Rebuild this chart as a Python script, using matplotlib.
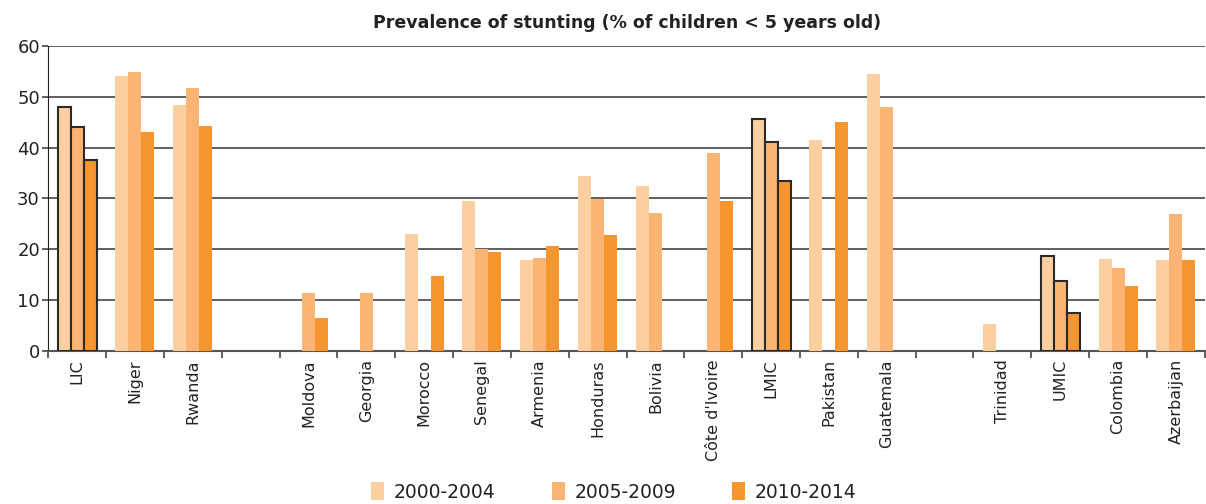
import matplotlib
matplotlib.use("Agg")
import matplotlib.pyplot as plt
from matplotlib.patches import Patch
import numpy as np

# data (None = no bar)
categories = ["LIC", "Niger", "Rwanda", "", "Moldova", "Georgia", "Morocco",
              "Senegal", "Armenia", "Honduras", "Bolivia", "Côte d'Ivoire",
              "LMIC", "Pakistan", "Guatemala", "", "Trinidad", "UMIC",
              "Colombia", "Azerbaijan"]
s2000 = [48.0, 54.0, 48.3, None, None, None, 23.0,
         29.4, 17.8, 34.4, 32.4, None,
         45.7, 41.4, 54.4, None, 5.2, 18.7,
         18.0, 17.8]
s2005 = [44.1, 54.8, 51.8, None, 11.3, 11.3, None,
         20.1, 18.2, 29.8, 27.2, 38.9,
         41.1, None, 47.9, None, None, 13.7,
         16.3, 26.9]
s2010 = [37.6, 43.1, 44.3, None, 6.5, None, 14.8,
         19.4, 20.7, 22.7, None, 29.4,
         33.5, 45.0, None, None, None, 7.5,
         12.8, 17.8]
series_labels = ["2000-2004", "2005-2009", "2010-2014"]
income_groups = ["LIC", "LMIC", "UMIC"]

colors = ["#FCCFA1", "#FAB575", "#F7952F"]

fig = plt.figure(figsize=(12.06, 5.04), dpi=100)
ax = fig.add_axes([0.040, 0.304, 0.959, 0.605])

x = np.arange(len(categories))
w = 0.225
for k, (vals, col) in enumerate(zip([s2000, s2005, s2010], colors)):
    for i, v in enumerate(vals):
        if v is None:
            continue
        if categories[i] in income_groups:
            ax.bar(x[i] + (k - 1) * w, v, w, color=col, edgecolor="#2a2a2a",
                   linewidth=1.5, zorder=3)
        else:
            ax.bar(x[i] + (k - 1) * w, v, w, color=col, linewidth=0, zorder=3)

ax.set_xlim(-0.5, len(categories) - 0.5)
ax.set_ylim(0, 60)
ax.set_yticks(range(0, 61, 10))
ax.yaxis.grid(True, color="#444444", linewidth=1.2, zorder=0)
ax.set_axisbelow(True)

ax.set_xticks(np.arange(-0.5, len(categories), 1.0))
ax.set_xticklabels([])
ax.set_xticks(x, minor=True)
ax.set_xticklabels(categories, minor=True, rotation=90, fontsize=11.5,
                   color="#222222")
ax.tick_params(axis="x", which="minor", length=0, pad=6)
ax.tick_params(axis="x", which="major", length=5, color="#444444", width=1.2)
ax.tick_params(axis="y", labelsize=13, length=4, color="#444444", width=1.2,
               labelcolor="#222222", pad=2)

for side in ["top", "right"]:
    ax.spines[side].set_visible(False)
ax.spines["left"].set_color("#222222")
ax.spines["bottom"].set_color("#555555")
ax.spines["bottom"].set_linewidth(1.5)

fig.text(0.52, 0.955, "Prevalence of stunting (% of children < 5 years old)",
         ha="center", va="center", fontsize=12.5, fontweight="bold",
         color="#222222")

handles = [Patch(facecolor=c, edgecolor="none") for c in colors]
fig.legend(handles, series_labels, loc="center", bbox_to_anchor=(0.509, 0.024),
           ncol=3, frameon=False, fontsize=13.5, handlelength=0.7,
           handleheight=1.1, columnspacing=3.0, handletextpad=0.5,
           labelcolor="#222222")

fig.savefig("out.png", dpi=100)
